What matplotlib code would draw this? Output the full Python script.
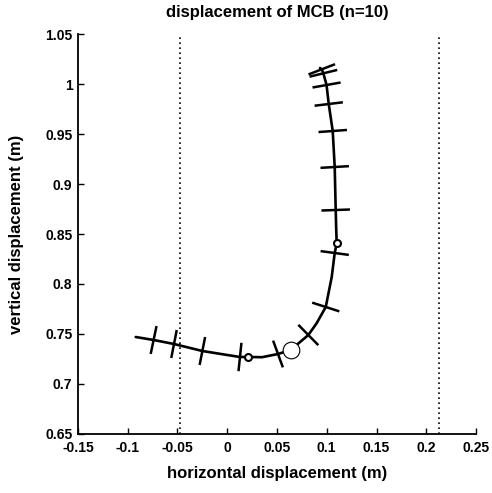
import numpy as np
import matplotlib.pyplot as plt

plt.rcParams['font.family'] = ['Liberation Sans', 'DejaVu Sans']
plt.rcParams['axes.unicode_minus'] = False

# trajectory of the MCB (m)
path_x = [-0.092, -0.074, -0.0535, -0.025, 0.0, 0.0128, 0.021, 0.035, 0.051, 0.0638,
          0.0815, 0.0898, 0.099, 0.105, 0.108, 0.110, 0.1095, 0.109, 0.108, 0.106,
          0.102, 0.0998, 0.0966, 0.095, 0.0932]
path_y = [0.747, 0.744, 0.740, 0.733, 0.729, 0.727, 0.727, 0.7268, 0.730, 0.734,
          0.749, 0.7607, 0.777, 0.807, 0.831, 0.8407, 0.855, 0.874, 0.917, 0.953,
          0.980, 0.999, 1.0107, 1.0147, 1.016]
# indices of the path points that carry a cross mark
cross_idx = [1, 2, 3, 5, 8, 10, 12, 14, 17, 18, 19, 20, 21, 22, 23]
small_circ = [6, 15]
big_circ = 9

limits_x = [-0.0475, 0.2128]

xticks = [-0.15, -0.1, -0.05, 0, 0.05, 0.1, 0.15, 0.2, 0.25]
xlabels = ['-0.15', '-0.1', '-0.05', '0', '0.05', '0.1', '0.15', '0.2', '0.25']
yticks = [0.65, 0.7, 0.75, 0.8, 0.85, 0.9, 0.95, 1.0, 1.05]
ylabels = ['0.65', '0.7', '0.75', '0.8', '0.85', '0.9', '0.95', '1', '1.05']

fig = plt.figure(figsize=(4.92, 4.93), dpi=100)
ax = fig.add_axes([0.1585, 0.1197, 0.809, 0.8113])
ax.set_xlim(-0.15, 0.25)
ax.set_ylim(0.65, 1.05)

ax.plot(path_x, path_y, color='black', lw=1.9, solid_capstyle='round',
        solid_joinstyle='round', zorder=2)

for lx in limits_x:
    ax.axvline(lx, color='black', ls=(0, (1, 2)), lw=1.2, zorder=1)

# cross marks perpendicular to the path, fixed length in pixels
fig.canvas.draw()
pts = ax.transData.transform(np.column_stack([path_x, path_y]))
half = 13
for i in cross_idx:
    a = pts[max(i - 2, 0)]
    b = pts[min(i + 2, len(pts) - 1)]
    t = (b - a) / np.hypot(*(b - a))
    n = np.array([-t[1], t[0]])
    seg = np.array([pts[i] - half * n, pts[i] + half * n])
    seg = ax.transData.inverted().transform(seg)
    ax.plot(seg[:, 0], seg[:, 1], color='black', lw=1.8, zorder=3)

ax.plot([path_x[i] for i in small_circ], [path_y[i] for i in small_circ], 'o',
        ms=5, mfc='white', mec='black', mew=1.5, zorder=4)
ax.plot(path_x[big_circ], path_y[big_circ], 'o', ms=12, mfc='white',
        mec='black', mew=0.8, zorder=4)

ax.set_xticks(xticks)
ax.set_xticklabels(xlabels)
ax.set_yticks(yticks)
ax.set_yticklabels(ylabels)
ax.tick_params(direction='in', length=4, width=1, labelsize=10)
ax.tick_params(axis='x', pad=5)
ax.tick_params(axis='y', pad=4)
for lab in ax.get_xticklabels() + ax.get_yticklabels():
    lab.set_fontweight('bold')
for s in ['top', 'right']:
    ax.spines[s].set_visible(False)
for s in ['left', 'bottom']:
    ax.spines[s].set_linewidth(1.3)

ax.set_title('displacement of MCB (n=10)', fontsize=12, fontweight='bold', pad=12)
ax.set_xlabel('horizontal displacement (m)', fontsize=12, fontweight='bold', labelpad=8)
ax.set_ylabel('vertical displacement (m)', fontsize=12, fontweight='bold', labelpad=15)

plt.savefig('out.png', dpi=100)
